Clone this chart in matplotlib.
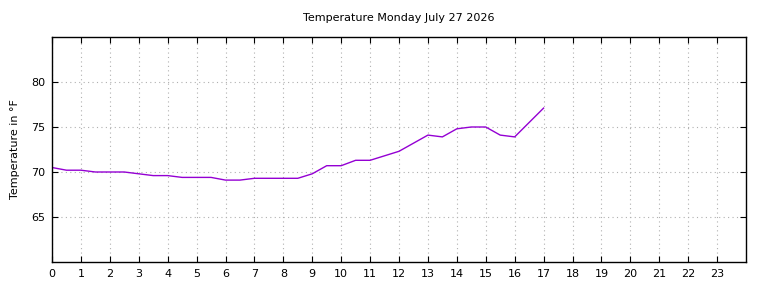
import matplotlib
matplotlib.use("Agg")
import matplotlib.pyplot as plt

# half-hourly readings
hours = [0, 0.5, 1, 1.5, 2, 2.5, 3, 3.5, 4, 4.5, 5, 5.5, 6, 6.5, 7, 7.5, 8, 8.5,
         9, 9.5, 10, 10.5, 11, 11.5, 12, 12.5, 13, 13.5, 14, 14.5, 15, 15.5, 16, 16.5, 17]
temps_f = [70.5, 70.2, 70.2, 70.0, 70.0, 70.0, 69.8, 69.6, 69.6, 69.4, 69.4, 69.4,
           69.1, 69.1, 69.3, 69.3, 69.3, 69.3, 69.8, 70.7, 70.7, 71.3, 71.3, 71.8,
           72.3, 73.2, 74.1, 73.9, 74.8, 75.0, 75.0, 74.1, 73.9, 75.5, 77.1]

x_ticks = list(range(0, 24))
y_ticks = [65, 70, 75, 80]

fig = plt.figure(figsize=(7.68, 2.88), dpi=100)
ax = fig.add_axes([52 / 768, 1 - 262 / 288, (746 - 52) / 768, (262 - 37) / 288])

ax.plot(hours, temps_f, color="#9400D3", linewidth=1.0)

ax.set_xlim(0, 24)
ax.set_ylim(60, 85)
ax.set_xticks(x_ticks)
ax.set_yticks(y_ticks)
ax.tick_params(direction="in", top=True, right=True, length=4, labelsize=8,
               colors="black", pad=5)
ax.grid(True, color="#b0b0b0", linestyle=(0, (1, 3)), linewidth=0.8)
for s in ax.spines.values():
    s.set_linewidth(1.0)

ax.set_ylabel("Temperature in °F", fontsize=8, labelpad=8)
fig.text(399 / 768, 1 - 18 / 288, "Temperature Monday July 27 2026", fontsize=8,
         ha="center", va="center")

fig.savefig("out.png", dpi=100)
